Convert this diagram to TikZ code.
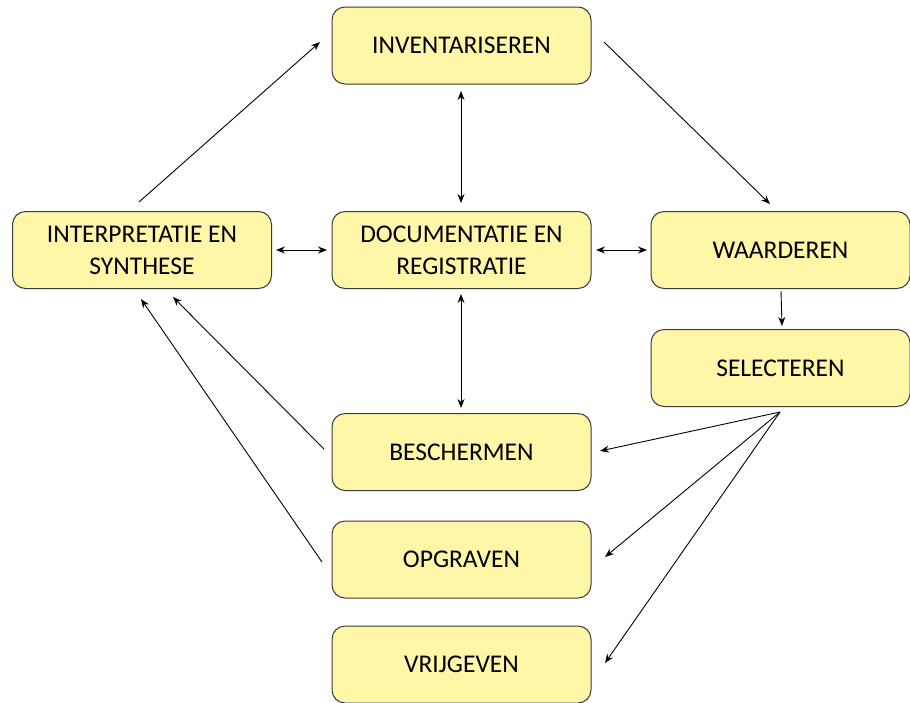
\documentclass[tikz,border=0pt]{standalone}
\usepackage{fontspec}
\setmainfont{Carlito}
\usetikzlibrary{arrows.meta}
\definecolor{boxfill}{HTML}{FFF6A8}
\definecolor{boxline}{HTML}{3A3A3A}
\begin{document}
\begin{tikzpicture}[x=1pt,y=-1pt,
  box/.style={draw=boxline,fill=boxfill,line width=1pt,rounded corners=13pt,
    minimum width=259pt,minimum height=77pt,inner sep=0pt,align=center,
    font=\fontsize{25.5}{32}\selectfont},
  conn/.style={line width=0.9pt,-{Stealth[length=9pt,width=7pt]}},
  dconn/.style={line width=0.9pt,{Stealth[length=9pt,width=7pt]}-{Stealth[length=9pt,width=7pt]}}]
\useasboundingbox (0,0) rectangle (910,702);
\node[box] (inv) at (461.5,45.5) {INVENTARISEREN};
\node[box] (int) at (142,250) {INTERPRETATIE EN\\SYNTHESE};
\node[box] (doc) at (461.5,250) {DOCUMENTATIE EN\\REGISTRATIE};
\node[box] (waa) at (780.5,250) {WAARDEREN};
\node[box] (sel) at (780.5,368) {SELECTEREN};
\node[box] (bes) at (461.5,452) {BESCHERMEN};
\node[box] (opg) at (461.5,559.5) {OPGRAVEN};
\node[box] (vri) at (461.5,664.5) {VRIJGEVEN};
% free ends
\coordinate (a1s) at (139,202);
\coordinate (a1e) at (320,42);
\coordinate (a2s) at (604,42);
\coordinate (a2e) at (770,204);
\coordinate (fan) at (780,412);
\coordinate (f1) at (600,451);
\coordinate (f2) at (605,557);
\coordinate (f3) at (605,663);
\coordinate (b1s) at (324,449);
\coordinate (b1e) at (173,297);
\coordinate (o1s) at (322,562);
\coordinate (o1e) at (141,299);
\draw[conn] (a1s) -- (a1e);
\draw[conn] (a2s) -- (a2e);
\draw[dconn] (461,91) -- (461,203);
\draw[dconn] (276,250) -- (327,250);
\draw[dconn] (596,250) -- (647,250);
\draw[conn] (781,291) -- (782,326);
\draw[dconn] (461,294) -- (461,408);
\draw[conn] (fan) -- (f1);
\draw[conn] (fan) -- (f2);
\draw[conn] (fan) -- (f3);
\draw[conn] (b1s) -- (b1e);
\draw[conn] (o1s) -- (o1e);
\end{tikzpicture}
\end{document}
